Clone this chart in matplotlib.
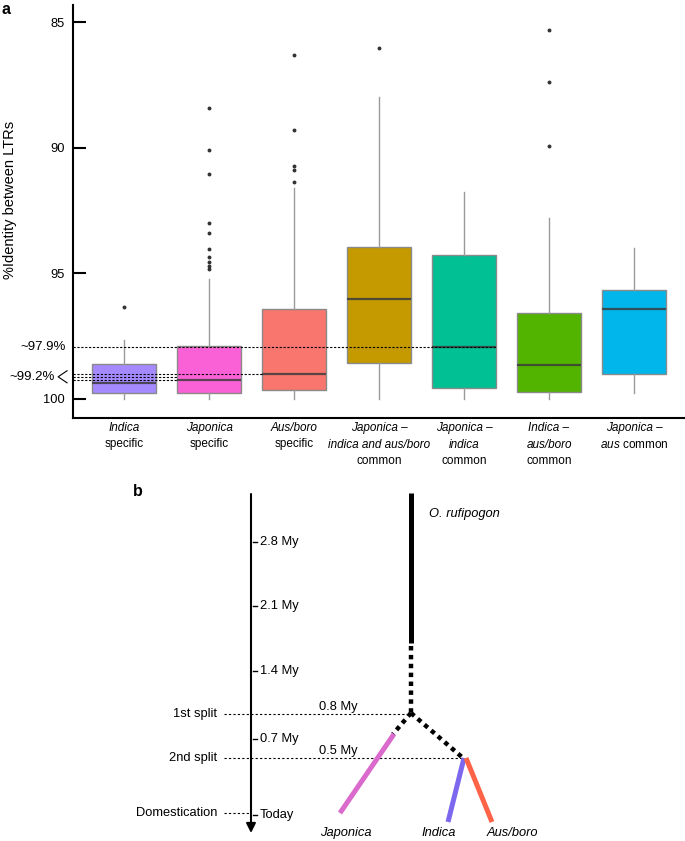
import numpy as np
import matplotlib
matplotlib.use('Agg')
import matplotlib.pyplot as plt

plt.rcParams['font.family'] = ['Liberation Sans', 'DejaVu Sans']
plt.rcParams['mathtext.fontset'] = 'custom'
plt.rcParams['mathtext.rm'] = 'Liberation Sans'
plt.rcParams['mathtext.it'] = 'Liberation Sans:italic'

# ---- panel a data: %identity between LTRs ----
groups = ['Indica specific', 'Japonica specific', 'Aus/boro specific',
          'Japonica - indica and aus/boro common', 'Japonica - indica common',
          'Indica - aus/boro common', 'Japonica - aus common']
whisker_lo = [97.65, 95.23, 91.6, 87.98, 91.77, 92.8, 94.0]
q1 = [98.61, 97.89, 96.42, 93.95, 94.27, 96.58, 95.66]
medians = [99.37, 99.25, 99.0, 96.02, 97.93, 98.65, 96.42]
q3 = [99.76, 99.76, 99.64, 98.57, 99.56, 99.72, 99.0]
whisker_hi = [100.0, 100.0, 100.0, 100.0, 100.0, 100.0, 99.76]
outliers = [
    [96.34],
    [88.42, 90.09, 91.05, 93.0, 93.4, 94.03, 94.35, 94.55, 94.7, 94.82],
    [86.31, 89.3, 90.73, 90.89, 91.37],
    [86.05],
    [],
    [85.32, 87.39, 89.93],
    [],
]
colors = ['#A58AFF', '#FB61D7', '#F8766D', '#C49A00', '#00C094', '#53B400', '#00B6EB']

# category labels, line by line (text, style)
cat_labels = [
    [('Indica', 'italic'), ('specific', 'normal')],
    [('Japonica', 'italic'), ('specific', 'normal')],
    [('Aus/boro', 'italic'), ('specific', 'normal')],
    [('Japonica \u2013', 'italic'), ('indica and aus/boro', 'italic'), ('common', 'normal')],
    [('Japonica \u2013', 'italic'), ('indica', 'italic'), ('common', 'normal')],
    [('Indica \u2013', 'italic'), ('aus/boro', 'italic'), ('common', 'normal')],
    [('Japonica \u2013', 'italic'), (r'$\mathit{aus}$ common', 'normal')],
]

ref_97 = 97.93
ref_99 = [99.0, 99.13, 99.25]
ref_99_end = [2.62, 1.62, 1.62]

# ---- panel b data: divergence timeline (diagram units) ----
time_labels = ['2.8 My', '2.1 My', '1.4 My', '0.7 My', 'Today']
time_y = [542, 606, 671, 739, 815]
event_labels = ['1st split', '2nd split', 'Domestication']
event_y = [714, 758, 813]
event_end_x = [410, 463, 251]
split_ages = ['0.8 My', '0.5 My']

trunk_x = 411
trunk_top, trunk_dash, node1_y = 493, 643, 713
node2 = (463, 758)
jap_dash_end = (393, 734)
jap_tip = (340, 813)
ind_tip = (448, 822)
aus_tip = (492, 822)
branch_colors = {'Japonica': '#DA6ACB', 'Indica': '#7B68EE', 'Aus/boro': '#FF6347'}

W, H = 685, 841
fs_b = 9.3
fig = plt.figure(figsize=(W / 100, H / 100), dpi=100)

# ================= panel a =================
ax_h = 418 - 5
ax = fig.add_axes([73 / W, 1 - 418 / H, (W - 73) / W, ax_h / H])
pos = np.arange(1, len(groups) + 1)
stats = []
for i in range(len(groups)):
    stats.append(dict(med=medians[i], q1=q1[i], q3=q3[i],
                      whislo=whisker_lo[i], whishi=whisker_hi[i],
                      fliers=outliers[i]))
bp = ax.bxp(stats, positions=pos, widths=0.75, patch_artist=True,
            showcaps=False,
            boxprops=dict(edgecolor='#8a8a8a', linewidth=1),
            whiskerprops=dict(color='#9a9a9a', linewidth=1),
            medianprops=dict(color='#3c3c3c', linewidth=1.6, alpha=0.85),
            flierprops=dict(marker='o', markersize=1.8, markerfacecolor='#333333',
                            markeredgecolor='#333333', linestyle='none'))
for patch, c in zip(bp['boxes'], colors):
    patch.set_facecolor(c)

ax.set_xlim(0.4, 7.6)
ax.set_ylim(100.76, 84.32)
ax.set_yticks([85, 90, 95, 100])
ax.tick_params(axis='y', direction='in', length=9, width=1.5, labelsize=9.3, pad=6)
ax.set_xticks([])
for s in ['top', 'right']:
    ax.spines[s].set_visible(False)
for s in ['left', 'bottom']:
    ax.spines[s].set_linewidth(1.5)

# reference lines
ax.plot([0.4, 5.38], [ref_97, ref_97], color='black', lw=0.8, ls=(0, (2, 1.5)), zorder=3)
for yv, xe in zip(ref_99, ref_99_end):
    ax.plot([0.4, xe], [yv, yv], color='black', lw=0.8, ls=(0, (2, 1.5)), zorder=3)

ax.text(0.31, ref_97, '~97.9%', ha='right', va='center', fontsize=9.5)
ax.text(0.19, ref_99[1], '~99.2%', ha='right', va='center', fontsize=9.5)
ax.plot([0.33, 0.225, 0.33], [98.88, 99.12, 99.36], color='black', lw=0.8, clip_on=False)

# category labels
for p, lines in zip(pos, cat_labels):
    for k, (txt, style) in enumerate(lines):
        ax.text(p, -(10 + k * 16.5) / ax_h, txt, transform=ax.get_xaxis_transform(),
                ha='center', va='center', fontsize=8.5, style=style)

fig.text(10 / W, 1 - 200 / H, '%Identity between LTRs', rotation=90,
         ha='center', va='center', fontsize=10.5)
fig.text(2 / W, 1 - 10 / H, 'a', fontsize=11.5, fontweight='bold', ha='left', va='center')

# ================= panel b =================
axb = fig.add_axes([0, 0, 1, 1 - 470 / H])
axb.set_xlim(0, W)
axb.set_ylim(H, 470)
axb.axis('off')

axb.text(133, 492, 'b', fontsize=11.5, fontweight='bold', ha='left', va='center')

# time axis
axb.annotate('', xy=(251, 833), xytext=(251, 494),
             arrowprops=dict(arrowstyle='-|>', lw=1.5, color='black',
                             mutation_scale=14, shrinkA=0, shrinkB=0))
for lab, yv in zip(time_labels, time_y):
    axb.plot([253.5, 257], [yv, yv], color='black', lw=1)
    axb.text(260, yv, lab, ha='left', va='center', fontsize=fs_b)

dot = (0, (2, 2))
for lab, yv, xe in zip(event_labels, event_y, event_end_x):
    axb.plot([224, xe], [yv, yv], color='black', lw=0.8, ls=dot)
    axb.text(217, yv, lab, ha='right', va='center', fontsize=fs_b)
for lab, yv in zip(split_ages, event_y[:2]):
    axb.text(319, yv - 7, lab, ha='left', va='center', fontsize=fs_b)

# tree
sq = (0, (1, 1))
axb.plot([trunk_x, trunk_x], [trunk_top, trunk_dash], color='black', lw=3.6,
         solid_capstyle='butt')
axb.plot([trunk_x, trunk_x], [trunk_dash + 3, node1_y], color='black', lw=3.2, ls=sq,
         dash_capstyle='butt')
axb.plot([trunk_x, jap_dash_end[0]], [node1_y, jap_dash_end[1]], color='black', lw=3.2, ls=sq)
axb.plot([trunk_x, node2[0]], [node1_y, node2[1]], color='black', lw=3.2, ls=sq)
axb.plot([jap_dash_end[0] + 1, jap_tip[0]], [jap_dash_end[1], jap_tip[1]],
         color=branch_colors['Japonica'], lw=3.6, solid_capstyle='butt')
axb.plot([node2[0] + 1, ind_tip[0]], [node2[1], ind_tip[1]],
         color=branch_colors['Indica'], lw=3.6, solid_capstyle='butt')
axb.plot([node2[0] + 3, aus_tip[0]], [node2[1], aus_tip[1]],
         color=branch_colors['Aus/boro'], lw=3.6, solid_capstyle='butt')

axb.text(429, 514, 'O. rufipogon', style='italic', ha='left', va='center', fontsize=fs_b)
axb.text(320, 833, 'Japonica', style='italic', ha='left', va='center', fontsize=fs_b)
axb.text(421, 833, 'Indica', style='italic', ha='left', va='center', fontsize=fs_b)
axb.text(487, 833, 'Aus/boro', style='italic', ha='left', va='center', fontsize=fs_b)

fig.savefig('out.png', dpi=100)
